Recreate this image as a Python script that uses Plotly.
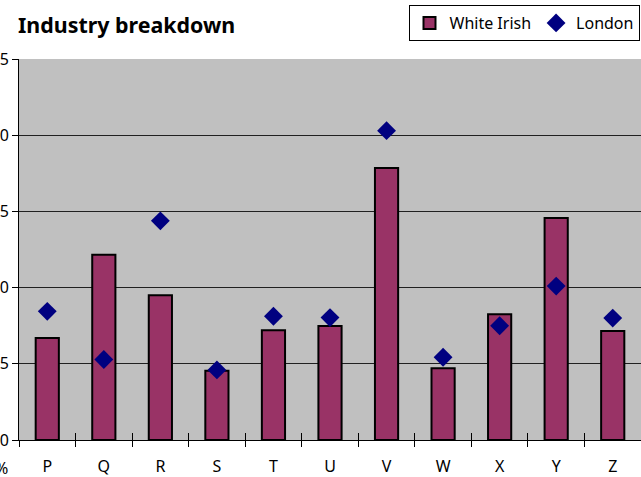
import plotly.graph_objects as go

categories = ["P", "Q", "R", "S", "T", "U", "V", "W", "X", "Y", "Z"]
white_irish = [6.7, 12.15, 9.5, 4.55, 7.2, 7.48, 17.85, 4.7, 8.25, 14.57, 7.15]
london = [8.44, 5.28, 14.38, 4.6, 8.12, 8.03, 20.3, 5.43, 7.5, 10.1, 8.0]
y_ticks = [0, 5, 10, 15, 20, 25]

FONT = "Noto Sans"
x_range = [-0.5, len(categories) - 0.5]

fig = go.Figure()
fig.add_trace(go.Bar(
    x=categories, y=white_irish, name="White Irish",
    marker=dict(color="#993366", line=dict(color="black", width=2)),
    width=0.41, xaxis="x", yaxis="y",
))
fig.add_trace(go.Scatter(
    x=categories, y=london, name="London", mode="markers",
    marker=dict(symbol="diamond", size=14.5, color="#000080"),
    xaxis="x2", yaxis="y",
))

fig.update_layout(
    width=641, height=477,
    margin=dict(l=19, r=0, t=59, b=37, autoexpand=False),
    paper_bgcolor="white", plot_bgcolor="#C0C0C0",
    font=dict(family=FONT, size=16, color="black"),
    title=dict(text="<b>Industry breakdown</b>", x=18/641, xanchor="left",
               y=1-26/477, yanchor="middle", xref="container", yref="container",
               font=dict(family=FONT, size=21.4, color="black")),
    showlegend=True,
    legend=dict(orientation="h", x=(524-19)/622, xanchor="center",
                y=1+54/381, yanchor="top", bordercolor="black", borderwidth=1,
                bgcolor="white", font=dict(size=16), itemwidth=30,
                tracegroupgap=0),
    xaxis=dict(type="category", categoryarray=categories, range=x_range,
               tickson="boundaries",
               ticks="outside", ticklen=6, tickcolor="black", tickwidth=1,
               ticklabelstandoff=12,
               showline=True, linecolor="black", linewidth=1,
               showgrid=False, zeroline=False, fixedrange=True,
               tickfont=dict(size=16)),
    xaxis2=dict(type="category", categoryarray=categories, range=x_range,
                overlaying="x", anchor="y", tickson="boundaries", ticks="inside",
                ticklen=7, tickcolor="black", tickwidth=1, showticklabels=False,
                showgrid=False, zeroline=False, showline=False, side="bottom",
                layer="above traces"),
    yaxis=dict(range=[0, 25], tickvals=y_ticks, ticks="outside", ticklen=6,
               tickcolor="black", showline=True, linecolor="black", linewidth=1,
               showgrid=True, gridcolor="#202020", gridwidth=1, zeroline=False,
               automargin=False, tickfont=dict(size=16)),
)

fig.add_annotation(text="%", xref="paper", yref="paper",
                   x=(10-19)/622, y=(440-468)/381, xanchor="right",
                   yanchor="middle", showarrow=False, font=dict(size=16))

fig.write_html("out.html", config={"displayModeBar": False},
               post_script="document.body.style.margin='0';")
